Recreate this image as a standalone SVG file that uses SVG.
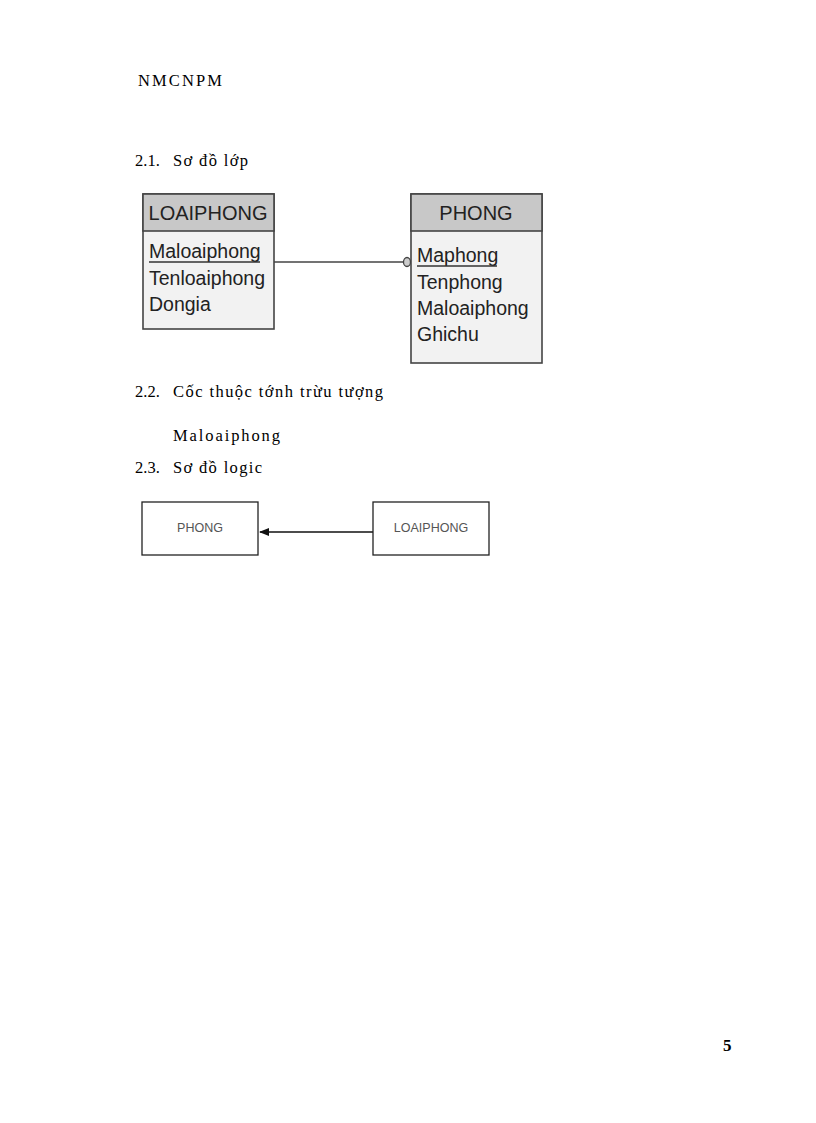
<svg xmlns="http://www.w3.org/2000/svg" width="816" height="1123" viewBox="0 0 816 1123">
<style>
.t{font-family:"Liberation Serif","DejaVu Serif",serif;font-size:16.5px;fill:#000}
.h{font-family:"Liberation Sans",Arial,sans-serif;font-size:20px;fill:#222}
.a{font-family:"Liberation Sans",Arial,sans-serif;font-size:19.5px;fill:#222}
.s{font-family:"Liberation Sans",Arial,sans-serif;font-size:12.5px;fill:#555}
.box{fill:#f2f2f2;stroke:#444;stroke-width:1.6}
.hdr{fill:#c8c8c8;stroke:#444;stroke-width:1.6}
.lb{fill:#fff;stroke:#222;stroke-width:1.3}
</style>
<defs>
<marker id="arr" markerWidth="10" markerHeight="8" refX="9" refY="4" orient="auto" markerUnits="userSpaceOnUse">
<path d="M0,0 L10,4 L0,8 z" fill="#111"/>
</marker>
</defs>
<rect width="816" height="1123" fill="#fff"/>
<text class="t" x="138" y="86" textLength="84" lengthAdjust="spacing">NMCNPM</text>
<text class="t" x="135" y="166">2.1.</text>
<text class="t" x="173" y="166" textLength="75" lengthAdjust="spacing">Sơ đồ lớp</text>
<text class="t" x="135" y="397">2.2.</text>
<text class="t" x="173" y="397" textLength="210" lengthAdjust="spacing">Cốc thuộc tớnh trừu tượng</text>
<text class="t" x="173" y="441" textLength="107" lengthAdjust="spacing">Maloaiphong</text>
<text class="t" x="135" y="473">2.3.</text>
<text class="t" x="173" y="473" textLength="89" lengthAdjust="spacing">Sơ đồ logic</text>
<text x="723" y="1051" style="font-family:'Liberation Serif',serif;font-size:17px;font-weight:bold">5</text>
<g id="connectors">
<line x1="274" y1="262" x2="404" y2="262" stroke="#444" stroke-width="1.5"/>
<ellipse cx="407" cy="262" rx="3.5" ry="4.5" fill="#ccc" stroke="#444" stroke-width="1.3"/>
<line x1="373" y1="532" x2="260" y2="532" stroke="#111" stroke-width="1.3" marker-end="url(#arr)"/>
</g>
<g id="LOAIPHONG">
<rect class="box" x="143" y="194" width="131" height="135"/>
<rect class="hdr" x="143" y="194" width="131" height="37"/>
<text class="h" x="208" y="220" text-anchor="middle">LOAIPHONG</text>
<text class="a" x="149" y="258">Maloaiphong</text>
<line x1="149" y1="262" x2="260" y2="262" stroke="#333" stroke-width="1.4"/>
<text class="a" x="149" y="285">Tenloaiphong</text>
<text class="a" x="149" y="311">Dongia</text>
</g>
<g id="PHONG">
<rect class="box" x="411" y="194" width="131" height="169"/>
<rect class="hdr" x="411" y="194" width="131" height="37"/>
<text class="h" x="476" y="220" text-anchor="middle">PHONG</text>
<text class="a" x="417" y="262">Maphong</text>
<line x1="417" y1="266" x2="497" y2="266" stroke="#333" stroke-width="1.4"/>
<text class="a" x="417" y="289">Tenphong</text>
<text class="a" x="417" y="315">Maloaiphong</text>
<text class="a" x="417" y="341">Ghichu</text>
</g>
<g id="PHONG2">
<rect class="lb" x="142" y="502" width="116" height="53"/>
<text class="s" x="200" y="532" text-anchor="middle">PHONG</text>
</g>
<g id="LOAIPHONG2">
<rect class="lb" x="373" y="502" width="116" height="53"/>
<text class="s" x="431" y="532" text-anchor="middle">LOAIPHONG</text>
</g>
</svg>
